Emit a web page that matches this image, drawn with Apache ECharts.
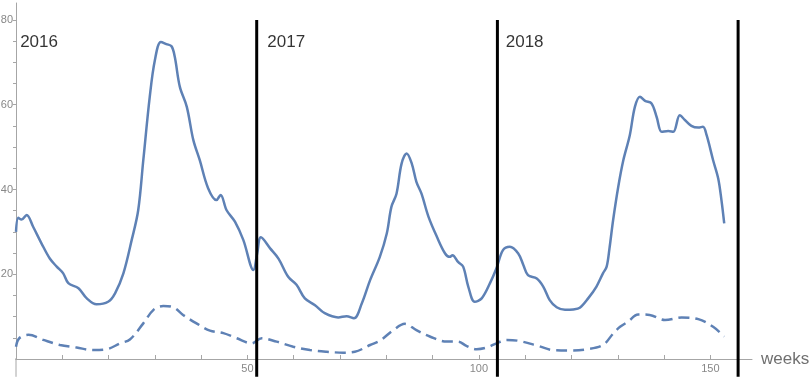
<!DOCTYPE html>
<html>
<head>
<meta charset="utf-8">
<script src="https://cdn.jsdelivr.net/npm/echarts@6/dist/echarts.min.js"></script>
<style>
  html, body { margin: 0; padding: 0; background: #fff; }
  #chart { width: 809px; height: 379px; }
</style>
</head>
<body>
<div id="chart"></div>
<script>
// weekly values, [week, value]
var totalSeries = [
  [0, 30.0], [0.5, 33.3], [1.2, 32.9], [2.3, 34.0], [3.7, 31.2], [5.5, 27.3], [7.3, 23.7],
  [8.8, 21.8], [10.2, 20.2], [11.3, 17.9], [13.5, 16.7], [15.3, 14.3], [17.4, 12.9],
  [19.9, 13.5], [21.4, 15.5], [23.2, 20.2], [25.0, 28.1], [26.4, 35.1], [27.5, 46.9],
  [28.9, 61.9], [30.0, 70.5], [31.3, 74.8], [32.5, 74.3], [33.6, 73.8], [34.3, 71.3],
  [35.4, 64.2], [36.9, 59.5], [38.3, 51.7], [39.7, 46.9], [41.5, 40.3], [43.3, 37.5],
  [44.2, 38.7], [45.5, 35.1], [47.3, 32.4], [49.1, 28.1], [51.3, 21.0], [52.1, 24.9],
  [52.9, 28.7], [54.9, 26.1], [56.7, 23.7], [58.8, 19.4], [60.6, 17.5], [62.4, 14.3],
  [64.6, 12.7], [66.7, 10.8], [69.6, 9.8], [71.4, 10.1], [73.0, 9.6], [74.7, 13.1],
  [76.5, 18.6], [78.6, 24.1], [80.1, 29.6], [81.1, 35.9], [82.2, 39.0], [83.3, 46.1],
  [84.4, 48.5], [85.5, 46.1], [86.5, 41.8], [87.6, 39.0], [89.1, 33.6], [90.9, 28.9],
  [92.7, 24.9], [93.7, 24.1], [94.3, 24.5], [95.5, 22.9], [96.6, 21.8], [97.7, 17.1],
  [99.1, 13.5], [100.6, 14.3], [102.4, 17.9], [103.8, 21.4], [105.2, 25.7], [106.7, 26.5],
  [108.5, 24.9], [109.6, 22.2], [110.6, 19.8], [112.5, 19.0], [113.9, 17.1], [115.3, 13.9],
  [116.8, 12.2], [118.6, 11.6], [120.4, 11.7], [121.8, 12.1], [123.6, 14.3], [125.4, 17.1],
  [126.8, 20.2], [127.6, 21.8], [128.2, 26.0], [129.0, 32.8], [130.1, 40.6], [131.2, 46.9],
  [132.6, 52.8], [133.7, 59.5], [134.8, 61.9], [135.9, 60.9], [137.3, 60.3], [138.4, 57.1],
  [139.5, 53.6], [140.9, 53.8], [142.0, 53.6], [143.4, 57.5], [144.5, 56.4], [145.9, 55.0],
  [147.4, 54.6], [148.4, 54.8], [149.2, 52.8], [150.6, 46.9], [151.7, 42.6], [152.4, 37.5],
  [153.0, 32.0]
];
var dashedSeries = [
  [0, 2.9], [0.7, 4.9], [2.7, 5.7], [5.9, 4.5], [9.5, 3.3], [13.1, 2.7], [16.7, 2.1],
  [19.6, 2.3], [22.5, 3.7], [24.6, 4.6], [27.5, 8.4], [29.7, 11.6], [31.8, 12.5],
  [34.0, 12.2], [36.1, 10.4], [39.0, 8.4], [41.9, 6.7], [44.8, 6.1], [47.7, 4.9],
  [50.9, 3.7], [53.1, 4.9], [56.3, 4.1], [59.9, 2.9], [63.5, 2.1], [67.1, 1.7],
  [70.7, 1.5], [73.2, 1.7], [76.5, 3.3], [78.6, 4.3], [81.5, 6.8], [84.0, 8.3],
  [86.5, 6.8], [89.4, 5.3], [93.0, 4.1], [95.5, 4.1], [97.3, 3.1], [99.5, 2.3],
  [101.7, 2.7], [103.8, 3.7], [106.0, 4.5], [108.5, 4.3], [112.8, 3.1], [116.0, 2.1],
  [119.7, 2.0], [123.3, 2.3], [126.8, 3.3], [129.0, 6.0], [130.5, 7.6], [132.2, 8.8],
  [134.4, 10.5], [136.9, 10.4], [140.2, 9.2], [143.8, 9.8], [147.4, 9.4], [150.6, 7.6],
  [153.0, 5.3]
];
var yearLabels = ['2016', '2017', '2018'];
var yearTextAt = [[0.9, 74.8], [54.3, 74.8], [105.8, 74.8]];
var yearBounds = [52, 104, 156];
var xTickVals = [10, 20, 30, 40, 50, 60, 70, 80, 90, 100, 110, 120, 130, 140, 150];
var xLabelVals = [50, 100, 150];
var yTickVals = [5, 10, 15, 20, 25, 30, 35, 40, 45, 50, 55, 60, 65, 70, 75, 80];
var yLabelVals = [20, 40, 60, 80];

var X_MAX = 159, Y_MAX = 84, LINE_TOP = 80;
var X_STUB = -3, Y_STUB = -4.2;   // axis lines poke a bit past the origin
var blue = '#5e81b5';
var axisGray = '#a6a6a6';
var font = 'Liberation Sans, Arial, sans-serif';

var chart = echarts.init(document.getElementById('chart'));

var series = [
  {
    type: 'line', data: totalSeries, smooth: 0.35, symbol: 'none', z: 3,
    lineStyle: { color: blue, width: 2.5 }
  },
  {
    type: 'line', data: dashedSeries, smooth: 0.35, symbol: 'none', z: 3,
    lineStyle: { color: blue, width: 2.5, type: [11, 6] }
  },
  {
    type: 'scatter', symbolSize: 0, z: 5,
    data: yearTextAt.map(function (p, i) { return [p[0], p[1], yearLabels[i]]; }),
    label: {
      show: true, position: 'right', distance: 0,
      formatter: function (p) { return p.value[2]; },
      color: '#000', fontSize: 17, fontFamily: font
    }
  },
  // little axis stubs past the origin
  {
    type: 'line', data: [[X_STUB, 0], [0, 0]], symbol: 'none', clip: false, silent: true,
    lineStyle: { color: axisGray, width: 1 }
  },
  {
    type: 'line', data: [[0, 0], [0, Y_STUB]], symbol: 'none', clip: false, silent: true,
    lineStyle: { color: axisGray, width: 1 }
  }
];
yearBounds.forEach(function (b) {
  series.push({
    type: 'line', data: [[b, LINE_TOP], [b, Y_STUB]], symbol: 'none', z: 4, clip: false,
    lineStyle: { color: '#000', width: 3 }
  });
});

chart.setOption({
  animation: false,
  grid: { left: 16, right: 57, top: 3, bottom: 20, containLabel: false, outerBoundsMode: 'none' },
  xAxis: {
    type: 'value', min: 0, max: X_MAX,
    name: 'weeks', nameLocation: 'end', nameGap: 9,
    nameTextStyle: { color: '#707070', fontSize: 17, fontFamily: font },
    axisLine: { lineStyle: { color: axisGray, width: 1 } },
    axisTick: { show: true, inside: true, length: 4, customValues: xTickVals, lineStyle: { color: axisGray } },
    axisLabel: { show: true, customValues: xLabelVals, color: '#888', fontSize: 11, margin: 4, fontFamily: font },
    splitLine: { show: false }
  },
  yAxis: {
    type: 'value', min: 0, max: Y_MAX,
    axisLine: { show: true, lineStyle: { color: axisGray, width: 1 } },
    axisTick: { show: true, length: 3, customValues: yTickVals, lineStyle: { color: axisGray } },
    axisLabel: { show: true, customValues: yLabelVals, color: '#888', fontSize: 11, margin: 3, fontFamily: font },
    splitLine: { show: false }
  },
  series: series
});
</script>
</body>
</html>
